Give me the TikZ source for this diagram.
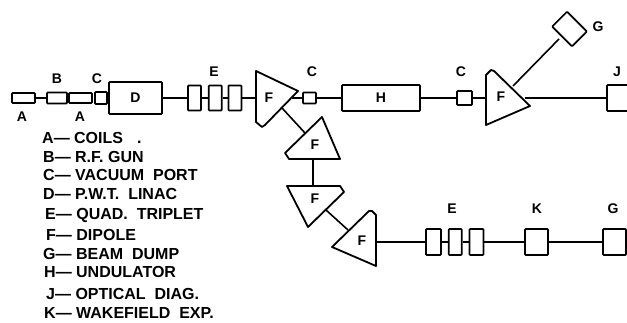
\documentclass[tikz,border=0pt]{standalone}
\usepackage{fontspec}
\setmainfont{Liberation Sans}
\usetikzlibrary{positioning}

\begin{document}
\begin{tikzpicture}[
    x=1pt,
    y=-1pt,
    box/.style 2 args={
        rectangle,
        draw=black,
        line width=1.7pt,
        rounded corners=0.8pt,
        inner sep=0pt,
        minimum width=#1pt,
        minimum height=#2pt,
    },
    dipole/.style={
        draw=black,
        line width=1.8pt,
        line join=round,
    },
    beam/.style={line width=1.6pt, color=black},
    lbl/.style={font=\fontsize{14}{14}\selectfont\bfseries, inner sep=0pt},
    legend/.style={font=\fontsize{16}{16}\selectfont\bfseries, inner sep=0pt, anchor=west},
]

\useasboundingbox (0,0) rectangle (627,323);
\clip (0,0) rectangle (627,323);

% upper beam line
\node[box={23}{10}] (a1) at (23.5,98) {};
\node[box={20}{11}] (b1) at (57,98) {};
\node[box={23}{10}] (a2) at (80.5,98) {};
\node[box={12}{12}] (c1) at (101,98) {};
\node[box={53}{32}, lbl] (d1) at (135.5,98) {D};
\node[box={13}{25}] (e1) at (194.5,98) {};
\node[box={13}{25}, right=6pt of e1] (e2) {};
\node[box={13}{25}, right=5pt of e2] (e3) {};
\node[box={13}{11}] (c2) at (309.5,98) {};
\node[box={78}{26}, lbl] (h1) at (381,98) {H};
\node[box={15}{14}] (c3) at (464.5,98) {};
\node[box={40}{26}] (j1) at (627,98) {};
\node[box={28}{21}, rotate=-45] (g1) at (569.5,29) {};

% lower beam line
\node[box={15}{26}] (e4) at (433.5,242) {};
\node[box={13}{26}, right=6pt of e4] (e5) {};
\node[box={14}{26}, right=6pt of e5] (e6) {};
\node[box={23}{26}] (k1) at (536.5,242) {};
\node[box={23}{26}] (g2) at (614.5,242) {};

% dipoles
\draw[dipole] (256,71) -- (298,91) -- (265,125) -- (262,127) -- (256,122) -- cycle;
\draw[dipole] (322,117) -- (340,159) -- (289,159) -- (285,153) -- cycle;
\draw[dipole] (287,186) -- (340,186) -- (344,192) -- (308,227) -- cycle;
\draw[dipole] (332,247) -- (369,211) -- (372,211) -- (376,215) -- (376,266) -- cycle;
\draw[dipole] (486,75) -- (491,70) -- (494,71) -- (530,106) -- (486,125) -- cycle;

\node[lbl] (f1) at (269,98) {F};
\node[lbl] (f2) at (315,145) {F};
\node[lbl] (f3) at (315,199) {F};
\node[lbl] (f4) at (362,241) {F};
\node[lbl] (f5) at (501,97) {F};

\coordinate (f1in) at (256,98);
\coordinate (f1out) at (292,98);
\coordinate (f1dn) at (282,108);
\coordinate (f2up) at (305,133);
\coordinate (f2dn) at (313,159);
\coordinate (f3up) at (313,186);
\coordinate (f3dn) at (326,210);
\coordinate (f4up) at (348,230);
\coordinate (f4out) at (376,242);
\coordinate (f5in) at (486,98);
\coordinate (f5out) at (525,98);
\coordinate (f5up) at (513,86);
\coordinate (g1in) at (559,39);

% connectors
\draw[beam] (a1.east) -- (b1.west);
\draw[beam] (b1.east) -- (a2.west);
\draw[beam] (c1.east) -- (d1.west);
\draw[beam] (d1.east) -- (e1.west);
\draw[beam] (e1.east) -- (e2.west);
\draw[beam] (e2.east) -- (e3.west);
\draw[beam] (e3.east) -- (f1in);
\draw[beam] (f1out) -- (c2.west);
\draw[beam] (c2.east) -- (h1.west);
\draw[beam] (h1.east) -- (c3.west);
\draw[beam] (c3.east) -- (f5in);
\draw[beam] (f5out) -- (j1.west);
\draw[beam] (f5up) -- (g1in);
\draw[beam] (f1dn) -- (f2up);
\draw[beam] (f2dn) -- (f3up);
\draw[beam] (f3dn) -- (f4up);
\draw[beam] (f4out) -- (e4.west);
\draw[beam] (e4.east) -- (e5.west);
\draw[beam] (e5.east) -- (e6.west);
\draw[beam] (e6.east) -- (k1.west);
\draw[beam] (k1.east) -- (g2.west);

% labels
\node[lbl] (la1) at (22,117) {A};
\node[lbl] (la2) at (80,117) {A};
\node[lbl] (lb1) at (57,79) {B};
\node[lbl] (lc1) at (97,79) {C};
\node[lbl] (le1) at (214,72) {E};
\node[lbl] (lc2) at (312,72) {C};
\node[lbl] (lc3) at (461,72) {C};
\node[lbl] (lj1) at (617,72) {J};
\node[lbl] (lg1) at (598,27) {G};
\node[lbl] (le2) at (452,209) {E};
\node[lbl] (lk1) at (537,209) {K};
\node[lbl] (lg2) at (613,209) {G};

% key
\foreach \n/\px/\py/\txt in {
    a/42/138/{A---\ COILS\hspace{14pt}.},
    b/43/157/{B---\ R.F.\ GUN},
    c/43/175/{C---\ VACUUM\ \ PORT},
    d/43/194/{D---\ P.W.T.\ \ LINAC},
    e/45/215/{E---\ QUAD.\ \ TRIPLET},
    f/46/235/{F---\ DIPOLE},
    g/43/254/{G---\ BEAM\ \ DUMP},
    h/44/272/{H---\ UNDULATOR},
    j/46/294/{J---\ OPTICAL\ \ DIAG.},
    k/44/313/{K---\ WAKEFIELD\ \ EXP.}
}{
    \node[legend] (key\n) at (\px,\py) {\txt};
}

\end{tikzpicture}
\end{document}
